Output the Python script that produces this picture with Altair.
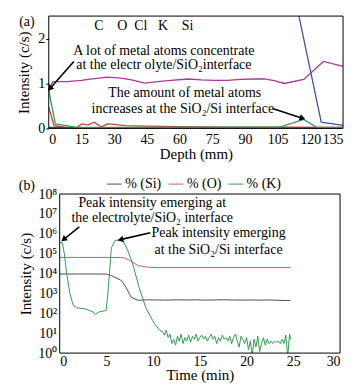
import altair as alt
import pandas as pd

FONT = "Liberation Serif"

# ---------------- panel (a) data ----------------
a_series = ["C", "O", "Cl", "K", "Si"]
a_colors = ["#d2403c", "#a8389a", "#1f5a78", "#2e9e55", "#3a55b4"]
a_C_depth = [0, 2.4, 8, 13, 15, 18, 21, 24, 27, 30, 35, 45, 60, 80, 100, 110, 125, 135]
a_C_val = [0.47, 0.06, 0.02, 0.02, 0.1, 0.08, 0.14, 0.03, 0.1, 0.09, 0.06, 0.05, 0.04, 0.03, 0.03, 0.03, 0.02, 0.02]
a_O_depth = [0, 2, 8.5, 15, 20, 27, 33, 38, 44, 50, 56, 64, 70, 76, 82, 88, 94, 99, 104, 108, 117, 126, 135]
a_O_val = [0.88, 1.04, 1.04, 1.07, 1.1, 1.14, 1.12, 1.08, 1.01, 1.04, 1.07, 1.1, 1.08, 1.07, 1.07, 1.09, 1.1, 1.1, 1.06, 1.0, 1.09, 1.49, 1.38]
a_Cl_depth = [0, 20, 60, 100, 135]
a_Cl_val = [0.02, 0.01, 0.01, 0.01, 0.01]
a_K_depth = [0, 3, 8, 12, 20, 40, 60, 80, 100, 106, 117, 123, 135]
a_K_val = [0.85, 0.1, 0.06, 0.03, 0.02, 0.02, 0.03, 0.03, 0.03, 0.03, 0.2, 0.02, 0.02]
a_Si_depth = [110, 125, 135]
a_Si_val = [3.6, 0.14, 0.07]
a_xticks = [0, 15, 30, 45, 60, 75, 90, 105, 120, 135]
a_yticks = [0, 1, 2]

NB = "\u00a0"
a_text = ["C" + NB * 4 + "O" + NB * 2 + "Cl" + NB * 3 + "K" + NB * 4 + "Si",
          "A lot of metal atoms concentrate",
          "at the electr olyte/SiO\u2082interface",
          "The amount of metal atoms",
          "increases at the SiO\u2082/Si interface"]
a_text_d = [43.6, 52.8, 52.8, 62.4, 61.5]
a_text_v = [2.27, 1.73, 1.42, 0.78, 0.44]
a_arrow_d = [11.5, 103]
a_arrow_v = [1.49, 0.44]
a_arrow_d2 = [0.8, 116]
a_arrow_v2 = [0.9, 0.23]
a_arrow_ang = [222, 109]

# ---------------- panel (b) data ----------------
b_series = ["% (Si)", "% (O)", "% (K)"]
b_colors = ["#505050", "#c0606a", "#2e9e50"]
b_O_t = [0, 2, 4, 6.5, 7.0, 7.5, 8.4, 9.4, 10.5, 13, 16, 19, 22, 24.7]
b_O_v = [6.5e4, 6.5e4, 6.5e4, 6.4e4, 6e4, 4.5e4, 2.5e4, 2.1e4, 2e4, 2e4, 2e4, 2e4, 2e4, 2e4]
b_Si_t = [0, 2, 4, 5, 5.5, 6.6, 7.1, 7.66, 8.4, 9.4, 10.5, 11.5, 12.5, 13.5, 14.5, 15.5, 16.5,
          17.5, 18.5, 19.5, 20.5, 21.5, 22.5, 23.5, 24.7]
b_Si_v = [9.5e3, 9.5e3, 9.5e3, 9.4e3, 8e3, 4.5e3, 2e3, 6.3e2, 4.5e2, 480, 470, 460, 480, 470,
          480, 460, 470, 480, 470, 460, 470, 460, 470, 450, 440]
b_K_t = [0, 0.29, 0.5, 0.74, 1.1, 1.45, 1.8, 2.7, 3.58, 3.83, 4.2, 4.96, 5.1, 5.35, 5.53, 5.96, 6.77,
         7.3, 7.8, 8.5, 9.2, 10.1, 10.7,
         11.0, 11.2, 11.4, 11.6, 11.8, 12.0, 12.2, 12.4, 12.6, 12.8, 13.0, 13.2, 13.4, 13.6, 13.8,
         14.0, 14.2, 14.4, 14.6, 14.8, 15.0, 15.2, 15.4, 15.6, 15.8, 16.0, 16.2, 16.4, 16.6, 16.8,
         17.0, 17.2, 17.4, 17.6, 17.8, 18.0, 18.2, 18.4, 18.6, 18.8, 19.0, 19.2, 19.4, 19.6, 19.8,
         20.0, 20.2, 20.4, 20.6, 20.8, 21.0, 21.2, 21.4, 21.6, 21.8, 22.0, 22.2, 22.4, 22.6, 22.8,
         23.0, 23.2, 23.4, 23.6, 23.8, 24.0, 24.2, 24.4, 24.6, 24.7]
b_K_v = [3.5e5, 3.7e5, 9.5e4, 1e4, 1e3, 250, 190, 170, 117, 89, 117, 140, 500, 1.4e4, 2e5, 4.8e5, 4.5e5,
         1.4e5, 3.2e4, 2e3, 200, 32, 14,
         12, 8, 14, 6, 9, 3, 5, 2.5, 7, 4, 9, 3, 6, 4, 8,
         3.5, 7, 5, 9, 4, 6, 8, 5, 7, 4, 6, 9, 5, 7, 3,
         6, 4, 8, 5, 6, 4, 7, 3, 6, 9, 4, 2, 7, 5, 3,
         6, 1.5, 4, 0.8, 5, 2, 7, 1.2, 3, 6, 2.5, 5, 3, 4, 3,
         4, 3.5, 4, 3, 5, 3, 8, 0.7, 9, 5]
b_xticks = [0, 5, 10, 15, 20, 25, 30]
b_yticks = [1, 10, 100, 1e3, 1e4, 1e5, 1e6, 1e7, 1e8]

b_text = ["Peak intensity emerging at",
          "the electrolyte/SiO\u2082 interface",
          "Peak intensity emerging",
          "at the SiO\u2082/Si interface"]
b_text_t = [9.9, 9.9, 17.0, 17.0]
b_text_v = [10 ** 7.55, 10 ** 6.8, 10 ** 6.05, 10 ** 5.2]
b_arrow_t = [2.1, 9.7]
b_arrow_v = [10 ** 6.35, 10 ** 6.05]
b_arrow_t2 = [0.5, 6.6]
b_arrow_v2 = [10 ** 5.75, 10 ** 5.72]
b_arrow_ang = [231, 257]

# ---------------- build panel (a) ----------------
WA, HA = 296, 113


def ax_common(**kw):
    base = dict(grid=False, domain=False, tickColor="black", labelColor="black",
                labelFont=FONT, labelFontSize=14, titleFont=FONT, titleFontSize=15,
                titleFontWeight="normal", titleColor="black")
    base.update(kw)
    return alt.Axis(**base)


def xa(f="d"):
    return alt.X(f + ":Q", scale=alt.Scale(domain=[0, 135], nice=False, zero=False),
                 axis=ax_common(values=a_xticks, title="Depth (mm)", tickSize=0,
                                labelPadding=4, titlePadding=0))


def ya(f="v"):
    return alt.Y(f + ":Q", scale=alt.Scale(domain=[0, 2.5], nice=False),
                 axis=ax_common(values=a_yticks, title="Intensity (c/s)", tickSize=3,
                                labelPadding=1, titlePadding=6))


rows = []
for s, ds, vs in [("C", a_C_depth, a_C_val), ("O", a_O_depth, a_O_val), ("Cl", a_Cl_depth, a_Cl_val),
                  ("K", a_K_depth, a_K_val), ("Si", a_Si_depth, a_Si_val)]:
    for d, v in zip(ds, vs):
        rows.append({"s": s, "d": d, "v": v})
dfa = pd.DataFrame(rows)

lines_a = alt.Chart(dfa).mark_line(clip=True, strokeWidth=1.3).encode(
    x=xa(), y=ya(),
    color=alt.Color("s:N", scale=alt.Scale(domain=a_series, range=a_colors), legend=None),
    detail="s:N")

frame_a = alt.Chart(pd.DataFrame({"d": [0], "d2": [135], "v": [0], "v2": [2.5]})).mark_rect(
    filled=False, stroke="black", strokeWidth=1).encode(x=xa(), x2="d2:Q", y=ya(), y2="v2:Q")

text_a = alt.Chart(pd.DataFrame({"d": a_text_d, "v": a_text_v, "t": a_text})).mark_text(
    font=FONT, fontSize=14, color="black", align="center", baseline="middle").encode(
    x=xa(), y=ya(), text="t:N")

arrow_a = alt.Chart(pd.DataFrame({"d": a_arrow_d, "v": a_arrow_v, "d2": a_arrow_d2,
                                  "v2": a_arrow_v2})).mark_rule(color="black", strokeWidth=1.6).encode(
    x=xa(), y=ya(), x2="d2:Q", y2="v2:Q")

head_a = alt.Chart(pd.DataFrame({"d": a_arrow_d2, "v": a_arrow_v2, "ang": a_arrow_ang})).mark_point(
    shape="triangle", filled=True, color="black", size=45, opacity=1).encode(
    x=xa(), y=ya(), angle=alt.Angle("ang:Q", scale=None))

lab_a = alt.Chart(pd.DataFrame({"t": ["(a)"]})).mark_text(
    font=FONT, fontSize=14, color="black", align="center", baseline="middle").encode(
    x=alt.value(-22), y=alt.value(6), text="t:N")

panel_a = alt.layer(lines_a, frame_a, text_a, arrow_a, head_a, lab_a).properties(width=WA, height=HA)

# ---------------- build panel (b) ----------------
HB = 160
SUP = "['\u2070','\u00b9','\u00b2','\u00b3','\u2074','\u2075','\u2076','\u2077','\u2078']"


def xb(f="t"):
    return alt.X(f + ":Q", scale=alt.Scale(domain=[0, 30], nice=False, zero=False, range=[11, 293]),
                 axis=ax_common(values=b_xticks, title="Time (min)", tickSize=0,
                                labelPadding=1, titlePadding=0))


def yb(f="v"):
    return alt.Y(f + ":Q", scale=alt.Scale(type="log", domain=[1, 1e8], nice=False),
                 axis=ax_common(values=b_yticks, title="Intensity (c/s)", tickSize=0,
                                labelPadding=3, titlePadding=4, offset=-11,
                                labelExpr="'10' + " + SUP + "[round(log(datum.value)/LN10)]"))


rows = []
for s, ts, vs in [("% (Si)", b_Si_t, b_Si_v), ("% (O)", b_O_t, b_O_v), ("% (K)", b_K_t, b_K_v)]:
    for t, v in zip(ts, vs):
        rows.append({"s": s, "t": t, "v": v})
dfb = pd.DataFrame(rows)

lines_b = alt.Chart(dfb).mark_line(clip=True).encode(
    x=xb(), y=yb(),
    color=alt.Color("s:N", scale=alt.Scale(domain=b_series, range=b_colors),
                    legend=alt.Legend(orient="none", legendX=58, legendY=-18, direction="horizontal",
                                      title=None, symbolType="stroke", symbolSize=220,
                                      symbolStrokeWidth=1.3, labelFont=FONT, labelFontSize=14,
                                      labelColor="black", columnPadding=4, labelOffset=3)),
    strokeWidth=alt.StrokeWidth("s:N", scale=alt.Scale(domain=b_series, range=[1, 1, 1.8]),
                                legend=None),
    detail="s:N")

frame_b = alt.Chart(pd.DataFrame({"t": [0], "t2": [30], "v": [1], "v2": [1e8]})).mark_rect(
    filled=False, stroke="black", strokeWidth=1).encode(x=xb(), x2="t2:Q", y=yb(), y2="v2:Q")

text_b = alt.Chart(pd.DataFrame({"t": b_text_t, "v": b_text_v, "txt": b_text})).mark_text(
    font=FONT, fontSize=14, color="black", align="center", baseline="middle").encode(
    x=xb(), y=yb(), text="txt:N")

arrow_b = alt.Chart(pd.DataFrame({"t": b_arrow_t, "v": b_arrow_v, "t2": b_arrow_t2,
                                  "v2": b_arrow_v2})).mark_rule(color="black", strokeWidth=1.6).encode(
    x=xb(), y=yb(), x2="t2:Q", y2="v2:Q")

head_b = alt.Chart(pd.DataFrame({"t": b_arrow_t2, "v": b_arrow_v2, "ang": b_arrow_ang})).mark_point(
    shape="triangle", filled=True, color="black", size=45, opacity=1).encode(
    x=xb(), y=yb(), angle=alt.Angle("ang:Q", scale=None))

lab_b = alt.Chart(pd.DataFrame({"txt": ["(b)"]})).mark_text(
    font=FONT, fontSize=14, color="black", align="center", baseline="middle").encode(
    x=alt.value(-22), y=alt.value(-8), text="txt:N")

panel_b = alt.layer(lines_b, frame_b, text_b, arrow_b, head_b, lab_b).properties(width=WA, height=HB)

chart = alt.vconcat(panel_a, panel_b, spacing=15).resolve_scale(
    color="independent", strokeWidth="independent").resolve_legend(
    color="independent").configure_view(stroke=None).properties(
    padding={"left": 9, "top": 6, "right": 5, "bottom": 5})

chart.save("out.html", embed_options={"renderer": "svg", "actions": False})
